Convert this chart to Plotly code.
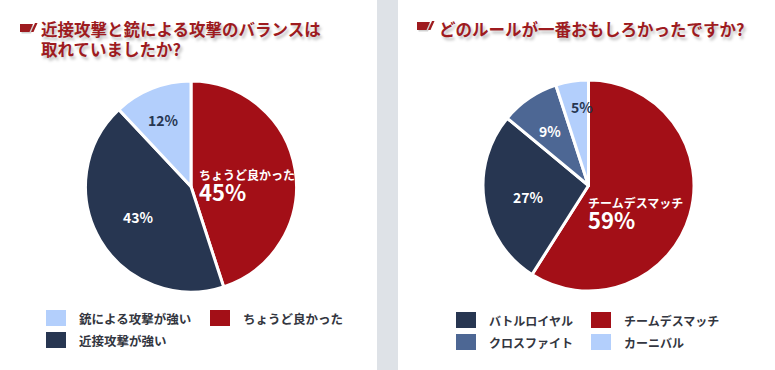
import plotly.graph_objects as go

W, H = 775, 370

# ---- data ----
balance_labels = ["ちょうど良かった", "近接攻撃が強い", "銃による攻撃が強い"]
balance_values = [45, 43, 12]
balance_colors = ["#a30f17", "#273651", "#b3cffc"]
balance_legend_order = ["銃による攻撃が強い", "ちょうど良かった", "近接攻撃が強い"]

rule_labels = ["チームデスマッチ", "バトルロイヤル", "クロスファイト", "カーニバル"]
rule_values = [59, 27, 9, 5]
rule_colors = ["#a30f17", "#273651", "#4d6794", "#b3cffc"]
rule_legend_order = ["バトルロイヤル", "チームデスマッチ", "クロスファイト", "カーニバル"]

title_left = ["近接攻撃と銃による攻撃のバランスは", "取れていましたか?"]
title_right = ["どのルールが一番おもしろかったですか?"]

FONT = "Noto Sans CJK JP"
TITLE_RED = "#9e1b1f"
TEXT_DARK = "#333640"


def px(x):
    return x / W


def py(y):
    return 1 - y / H


fig = go.Figure()


def add_pie(labels, values, colors, cx, cy, r):
    fig.add_trace(go.Pie(
        labels=labels, values=values, sort=False, direction="clockwise", rotation=0,
        marker=dict(colors=colors, line=dict(color="white", width=3)),
        textinfo="none", hoverinfo="label+percent", showlegend=False,
        domain=dict(x=[px(cx - r), px(cx + r)], y=[py(cy + r), py(cy - r)]),
    ))


add_pie(balance_labels, balance_values, balance_colors, 191, 186.5, 105.5)
add_pie(rule_labels, rule_values, rule_colors, 588.5, 185.5, 105.5)

shapes = []
annotations = []

# separator
shapes.append(dict(type="rect", xref="paper", yref="paper", x0=px(377), x1=px(398),
                   y0=0, y1=1, fillcolor="#dee2e7", line=dict(width=0), layer="below"))


def icon(x, y):
    dx = 1.5
    path = (f"M {px(x+dx)} {py(y+1+dx)} L {px(x+13+dx)} {py(y+1+dx)} L {px(x+9.5+dx)} {py(y+9+dx)} "
            f"L {px(x+dx)} {py(y+9+dx)} Z")
    shapes.append(dict(type="path", xref="paper", yref="paper", path=path,
                       fillcolor="rgba(0,0,0,0.18)", line=dict(width=0)))
    path = (f"M {px(x)} {py(y+1)} L {px(x+13)} {py(y+1)} L {px(x+9.5)} {py(y+9)} "
            f"L {px(x)} {py(y+9)} Z")
    shapes.append(dict(type="path", xref="paper", yref="paper", path=path,
                       fillcolor=TITLE_RED, line=dict(width=0)))
    path2 = (f"M {px(x+11)} {py(y+9)} L {px(x+15)} {py(y)} L {px(x+17.5)} {py(y)} "
             f"L {px(x+13.5)} {py(y+9)} Z")
    shapes.append(dict(type="path", xref="paper", yref="paper", path=path2,
                       fillcolor=TITLE_RED, line=dict(width=0)))


def title(lines, x, y0, dy):
    for i, t in enumerate(lines):
        annotations.append(dict(
            text=f"<b>{t}</b>", x=px(x), y=py(y0 + i * dy), xref="paper", yref="paper",
            xanchor="left", yanchor="middle", showarrow=False,
            font=dict(family=FONT, size=16.5, color=TITLE_RED,
                      shadow="2px 3px 3px rgba(0,0,0,0.25)"),
        ))


icon(20, 23)
title(title_left, 39, 29.5, 19)
icon(417, 21)
title(title_right, 437, 29.5, 19)


def label(text, x, y, size, color, anchor="center"):
    annotations.append(dict(
        text=f"<b>{text}</b>", x=px(x), y=py(y), xref="paper", yref="paper",
        xanchor=anchor, yanchor="middle", showarrow=False,
        font=dict(family=FONT, size=size, color=color),
    ))


def big_label(name, value, x, y):
    text = (f"<span style='font-size:12px'><b>{name}</b></span><br>"
            f"<span style='font-size:22px'><b>{value}%</b></span>")
    annotations.append(dict(
        text=text, x=px(x), y=py(y), xref="paper", yref="paper",
        xanchor="left", yanchor="middle", align="left", showarrow=False,
        font=dict(family=FONT, size=16, color="white"),
    ))


# left pie labels
label(f"{balance_values[2]}%", 163, 120, 14, "#273651")
label(f"{balance_values[1]}%", 138, 217, 14, "white")
big_label(balance_labels[0], balance_values[0], 197, 186)

# right pie labels
label(f"{rule_values[3]}%", 582, 107, 14, "#273651")
label(f"{rule_values[2]}%", 550, 131, 14, "white")
label(f"{rule_values[1]}%", 528, 197, 14, "white")
big_label(rule_labels[0], rule_values[0], 586, 214)


def legend(order, labels, colors, cols_x, rows_y, size):
    cmap = dict(zip(labels, colors))
    for i, name in enumerate(order):
        cx = cols_x[i % 2]
        cy = rows_y[i // 2]
        shapes.append(dict(type="rect", xref="paper", yref="paper",
                           x0=px(cx), x1=px(cx + 20), y0=py(cy + 8), y1=py(cy - 8),
                           fillcolor=cmap[name], line=dict(width=0)))
        annotations.append(dict(
            text=f"<b>{name}</b>", x=px(cx + 31), y=py(cy), xref="paper", yref="paper",
            xanchor="left", yanchor="middle", showarrow=False,
            font=dict(family=FONT, size=size, color=TEXT_DARK),
        ))


legend(balance_legend_order, balance_labels, balance_colors, [46, 210], [318, 340], 12.5)
legend(rule_legend_order, rule_labels, rule_colors, [456, 591], [320, 342], 12)

fig.update_layout(
    width=W, height=H, margin=dict(l=0, r=0, t=0, b=0),
    paper_bgcolor="white", plot_bgcolor="white",
    shapes=shapes, annotations=annotations, showlegend=False,
)

fig.write_html("out.html", post_script="document.body.style.margin='0';",
               config={"displayModeBar": False})
